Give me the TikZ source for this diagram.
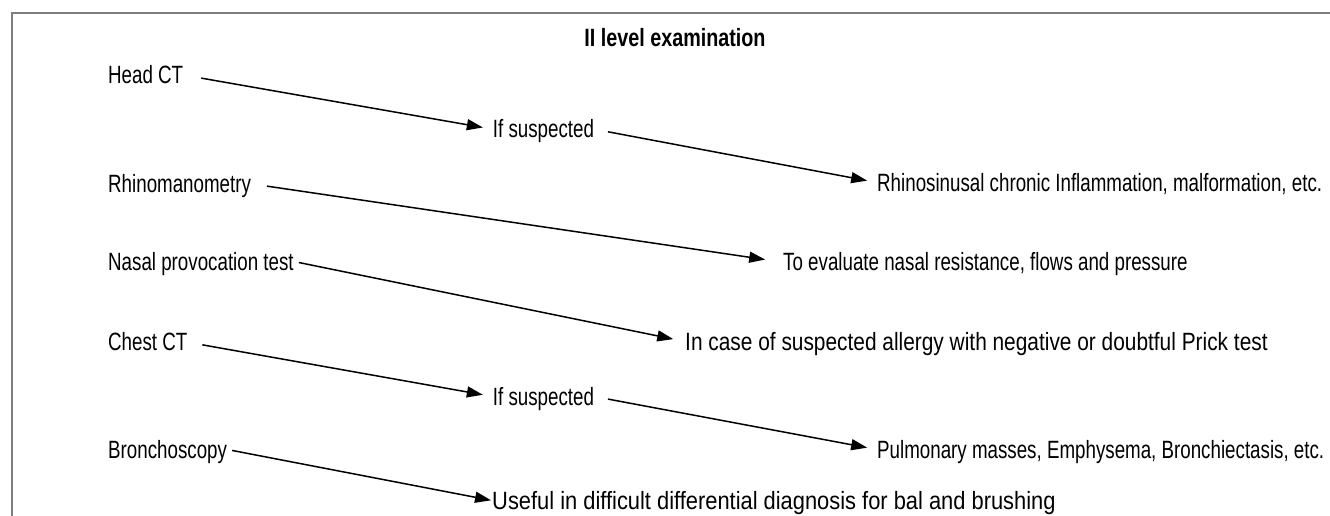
\documentclass[tikz,border=0pt]{standalone}
\usepackage{fontspec}
\setmainfont[FakeStretch=0.75]{Liberation Sans}
\newfontfamily\titlefont[FakeStretch=0.79]{Liberation Sans}
\newfontfamily\widefont[FakeStretch=0.835]{Liberation Sans}
\newfontfamily\widerfont[FakeStretch=0.875]{Liberation Sans}
\usetikzlibrary{arrows.meta}
\tikzset{
    item/.style={
        anchor=base west,
        inner sep=0pt,
        text height=17pt,
        text depth=0pt,
        font=\fontsize{25}{29}\selectfont
    },
    link/.style={
        draw,
        -{Triangle[length=16pt, width=11pt]},
        line width=1.5pt,
        shorten <=15pt,
        shorten >=10pt
    }
}
\definecolor{framegray}{RGB}{125,125,125}

\begin{document}
\begin{tikzpicture}[x=1pt, y=-1pt]
  \useasboundingbox (0,0) rectangle (1330,516);
  % frame (cut at right and bottom)
  \draw[framegray, line width=2pt] (11.5,516) -- (11.5,13) -- (1330,13);

  % title
  \node[anchor=base, inner sep=0pt, font=\titlefont\fontsize{25}{29}\selectfont\bfseries] (title) at (675,46.7) {II level examination};

  % examinations
  \node[item] (headct) at (108,83.5) {Head CT};
  \node[item] (rhinomano) at (108,192.3) {Rhinomanometry};
  \node[item] (nasalprov) at (108,270) {Nasal provocation test};
  \node[item] (chestct) at (108,350.7) {Chest CT};
  \node[item] (broncho) at (108,458) {Bronchoscopy};

  % intermediate steps
  \node[item] (ifsusp1) at (492.7,137.7) {If suspected};
  \node[item] (ifsusp2) at (492.7,405) {If suspected};

  % findings
  \node[item] (rhino) at (877,191) {Rhinosinusal chronic Inflammation, malformation, etc.};
  \node[item] (evalres) at (783,270.7) {To evaluate nasal resistance, flows and pressure};
  \node[item, font=\widefont\fontsize{25}{29}\selectfont] (allergy) at (685,350) {In case of suspected allergy with negative or doubtful Prick test};
  \node[item] (pulmo) at (877,458) {Pulmonary masses, Emphysema, Bronchiectasis, etc.};
  \node[item, font=\widerfont\fontsize{25}{29}\selectfont] (useful) at (492,509) {Useful in difficult differential diagnosis for bal and brushing};

  % arrows
  \draw[link, shorten <=18pt] (headct.east) -- (ifsusp1.west);
  \draw[link, shorten <=14pt] (ifsusp1.east) -- (rhino.west);
  \draw[link, shorten <=16pt, shorten >=18pt] (rhinomano.east) -- (evalres.west);
  \draw[link, shorten <=5pt, shorten >=12pt] (nasalprov.east) -- (allergy.west);
  \draw[link] (chestct.east) -- (ifsusp2.west);
  \draw[link, shorten <=14pt] (ifsusp2.east) -- (pulmo.west);
  \draw[link, shorten <=5pt, shorten >=1pt] (broncho.east) -- (useful.west);
\end{tikzpicture}
\end{document}
